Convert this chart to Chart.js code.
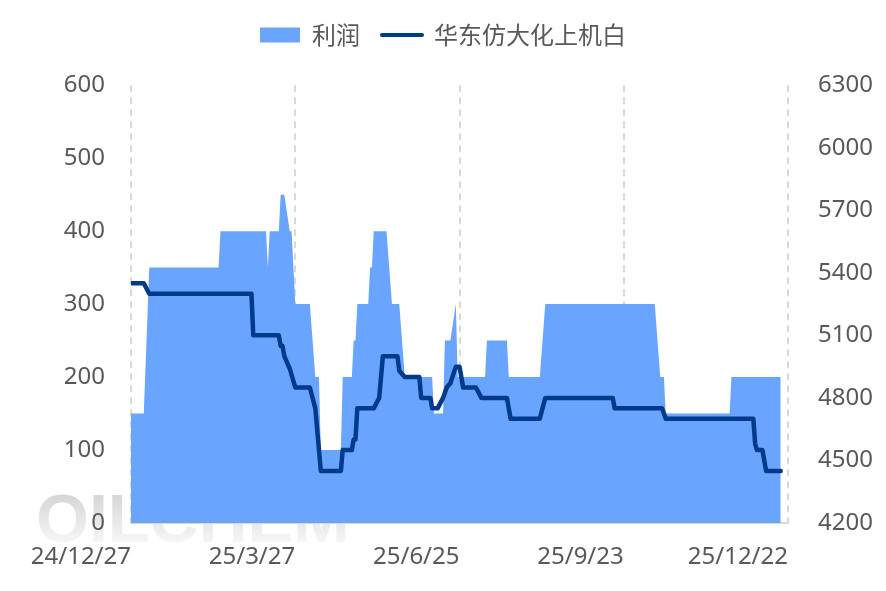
<!DOCTYPE html>
<html><head><meta charset="utf-8">
<script src="https://cdn.jsdelivr.net/npm/chart.js@4"></script>
<style>html,body{margin:0;padding:0;background:#fff}</style>
</head><body>
<canvas id="c" width="886" height="591"></canvas>
<script>
const seriesNames = ['利润', '华东仿大化上机白'];
const tickDays = [0, 90, 180, 270, 360];
const tickLabels = ['24/12/27', '25/3/27', '25/6/25', '25/9/23', '25/12/22'];
// day offsets from 24/12/27
const profitDays = [0,7,10,48,49,74,75,76,81,82,84,87,88,90,98,101,103,104,115,116,121,122,123,124,130,131,132,133,140,143,147,150,165,166,171,172,175,178,179,194,195,206,207,224,227,287,290,292,293,328,329,356];
const profitValues = [150,150,350,350,400,400,350,400,400,450,450,400,400,300,300,200,200,100,100,200,200,250,250,300,300,350,350,400,400,300,300,200,200,150,150,250,250,300,200,200,250,250,200,200,300,300,200,200,150,150,200,200];
const priceDays = [0,7,10,66,67,81,82,83,84,87,90,98,101,104,115,116,121,122,123,124,133,136,137,138,146,147,150,158,159,164,165,168,171,173,175,178,180,182,189,192,206,207,208,224,227,264,265,291,293,341,342,343,346,348,356];
const priceValues = [5350,5350,5300,5300,5100,5100,5050,5050,5000,4940,4850,4850,4750,4450,4450,4550,4550,4600,4600,4750,4750,4800,4900,5000,5000,4930,4900,4900,4800,4800,4750,4750,4800,4850,4870,4950,4950,4850,4850,4800,4800,4750,4700,4700,4800,4800,4750,4750,4700,4700,4580,4550,4550,4450,4450];

const AREA = '#69A5FF', LINE = '#023A8A', TXT = '#595959', GRID = '#d9d9d9';
const FONT = '"Noto Sans", "Noto Sans CJK SC", sans-serif';

const watermark = {
  id: 'wm',
  beforeDraw(chart) {
    const ctx = chart.ctx;
    ctx.save();
    ctx.font = 'bold 68px "Liberation Sans", sans-serif';
    const g = ctx.createLinearGradient(0, 492, 0, 542);
    g.addColorStop(0, '#d4d4d4');
    g.addColorStop(1, '#f6f6f6');
    ctx.fillStyle = g;
    ctx.textBaseline = 'alphabetic';
    ctx.fillText('OILCHEM', 36, 542);
    ctx.restore();
  }
};

new Chart(document.getElementById('c'), {
  type: 'line',
  data: {
    datasets: [
      {
        label: seriesNames[0],
        data: profitDays.map((d, i) => ({x: d, y: profitValues[i]})),
        yAxisID: 'y',
        backgroundColor: AREA,
        borderColor: 'rgba(0,0,0,0)',
        borderWidth: 0,
        fill: 'origin',
        pointRadius: 0,
        tension: 0,
        order: 1
      },
      {
        label: seriesNames[1],
        data: priceDays.map((d, i) => ({x: d, y: priceValues[i]})),
        yAxisID: 'y1',
        borderColor: LINE,
        backgroundColor: LINE,
        borderWidth: 4.5,
        borderJoinStyle: 'round',
        borderCapStyle: 'round',
        fill: false,
        pointRadius: 0,
        tension: 0,
        order: 0
      }
    ]
  },
  options: {
    responsive: false,
    animation: false,
    devicePixelRatio: 1,
    layout: {padding: {top: 1, left: 0, right: 0, bottom: 0}},
    plugins: {
      tooltip: {enabled: false},
      title: {
        display: true,
        text: '',
        weight: 100,
        font: {size: 1},
        padding: {top: 0, bottom: 27}
      },
      legend: {
        position: 'top',
        weight: 1000,
        labels: {
          usePointStyle: true,
          pointStyleWidth: 40,
          boxHeight: 15,
          padding: 22,
          color: TXT,
          font: {size: 24, family: '"Noto Sans CJK SC", "Noto Sans", sans-serif'},
          generateLabels: (chart) => chart.data.datasets.map((ds, i) => ({
            text: ds.label,
            fillStyle: i === 0 ? AREA : LINE,
            strokeStyle: i === 0 ? AREA : LINE,
            lineWidth: i === 0 ? 0 : 4,
            lineCap: 'round',
            pointStyle: i === 0 ? 'rect' : 'line',
            fontColor: TXT,
            hidden: false,
            datasetIndex: i
          }))
        }
      }
    },
    scales: {
      x: {
        type: 'linear',
        min: tickDays[0],
        max: tickDays[tickDays.length - 1],
        afterBuildTicks: (s) => { s.ticks = tickDays.map(v => ({value: v})); },
        afterFit: (s) => { s.height = 68; },
        ticks: {
          callback: (v) => tickLabels[tickDays.indexOf(v)],
          align: 'end',
          padding: 20,
          autoSkip: false,
          maxRotation: 0,
          color: TXT,
          font: {size: 24, family: FONT}
        },
        grid: {color: GRID, lineWidth: 2, drawTicks: false},
        border: {display: true, color: GRID, width: 2, dash: [7, 5]}
      },
      y: {
        position: 'left',
        min: 0, max: 600,
        afterFit: (s) => { s.width = 131; },
        ticks: {stepSize: 100, padding: 18, color: TXT, font: {size: 24, family: FONT}, callback: (v) => String(v)},
        grid: {display: false},
        border: {display: false}
      },
      y1: {
        position: 'right',
        min: 4200, max: 6300,
        afterFit: (s) => { s.width = 98; },
        ticks: {stepSize: 300, padding: 22, color: TXT, font: {size: 24, family: FONT}, callback: (v) => String(v)},
        grid: {display: false},
        border: {display: false}
      }
    }
  },
  plugins: [watermark]
});
</script>
</body></html>
